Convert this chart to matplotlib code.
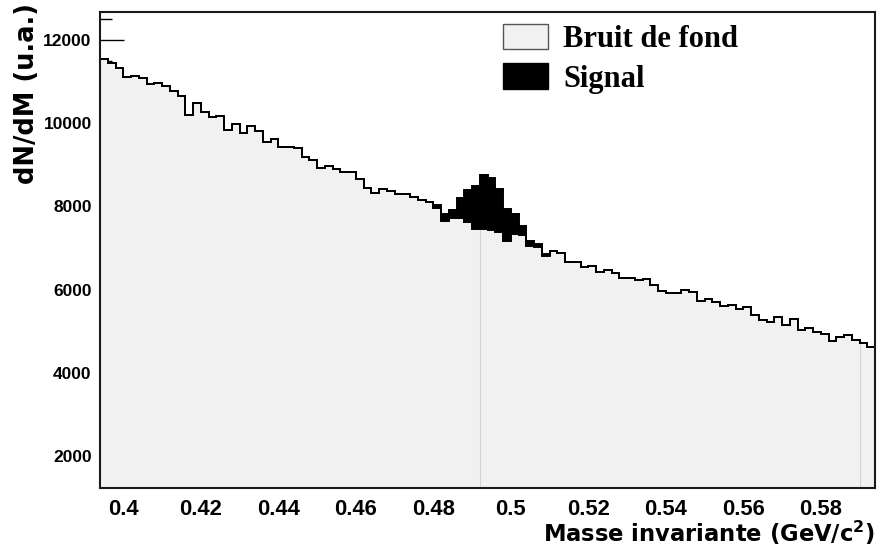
import numpy as np
import matplotlib
matplotlib.use("Agg")
import matplotlib.pyplot as plt
from matplotlib.patches import Patch
from matplotlib.ticker import MultipleLocator, FixedLocator, FixedFormatter

# Histogram binning (invariant mass, GeV/c^2)
mass_lo, mass_hi, n_bins = 0.394, 0.594, 100

# Background counts per bin
background = [
    11530, 11453, 11314, 11112, 11136, 11074, 10937, 10968, 10896, 10769,
    10649, 10193, 10474, 10272, 10152, 10176, 9833, 9977, 9754, 9936,
    9802, 9550, 9617, 9418, 9432, 9394, 9178, 9118, 8926, 8962,
    8890, 8837, 8825, 8650, 8448, 8326, 8424, 8376, 8309, 8297,
    8232, 8148, 8112, 7961, 7656, 7714, 7714, 7618, 7457, 7457,
    7433, 7378, 7176, 7337, 7313, 7042, 7018, 6816, 6936, 6874,
    6677, 6658, 6557, 6574, 6437, 6473, 6408, 6288, 6286, 6238,
    6269, 6108, 5974, 5921, 5916, 5993, 5940, 5729, 5789, 5712,
    5621, 5626, 5549, 5592, 5405, 5266, 5237, 5352, 5153, 5302,
    5033, 5093, 4992, 4944, 4776, 4865, 4913, 4793, 4728, 4618,
]

# Signal counts, starting at bin index signal_first_bin
signal_first_bin = 43
signal_counts = [70, 170, 190, 490, 770, 1025, 1295, 1240, 1040, 755,
                 485, 215, 125, 70, 35]

# Axis settings
y_range = (1234, 12658)
x_ticks = [0.40, 0.42, 0.44, 0.46, 0.48, 0.50, 0.52, 0.54, 0.56, 0.58]
x_tick_labels = ["0.4", "0.42", "0.44", "0.46", "0.48", "0.5",
                 "0.52", "0.54", "0.56", "0.58"]
legend_labels = ["Bruit de fond", "Signal"]

plt.rcParams["font.family"] = ["Liberation Sans", "DejaVu Sans"]
plt.rcParams["font.weight"] = "bold"

edges = np.linspace(mass_lo, mass_hi, n_bins + 1)
bkg = np.array(background, dtype=float)
sig = np.zeros(n_bins)
sig[signal_first_bin:signal_first_bin + len(signal_counts)] = signal_counts
total = bkg + sig

fig = plt.figure(figsize=(8.77, 5.53), dpi=100)
ax = fig.add_axes([100 / 877, (553 - 488.3) / 553, 775 / 877, 476 / 553])
ax.set_axisbelow(True)

fill_gray = "#f1f1f1"

# Stacked histogram: total (black = signal on top), then background
ax.stairs(total, edges, baseline=0, fill=True, facecolor="black",
          edgecolor="none", zorder=1.0)
ax.stairs(bkg, edges, baseline=0, fill=True, facecolor=fill_gray,
          edgecolor="none", zorder=1.1)

# faint seams in the filled area
seam_edges = [49, 98]
for k in seam_edges:
    ax.vlines(edges[k], 0, min(bkg[k - 1], bkg[k]), colors="#d4d4d4",
              linewidth=0.8, zorder=1.2)

ax.stairs(total, edges, baseline=None, color="black", linewidth=1.4, zorder=1.3)
ax.stairs(bkg, edges, baseline=None, color="black", linewidth=1.4, zorder=1.4)

ax.set_xlim(mass_lo, mass_hi)
ax.set_ylim(*y_range)

ax.xaxis.set_major_locator(FixedLocator(x_ticks))
ax.xaxis.set_major_formatter(FixedFormatter(x_tick_labels))
ax.yaxis.set_major_locator(MultipleLocator(2000))
ax.yaxis.set_minor_locator(MultipleLocator(500))

ax.tick_params(axis="y", which="major", direction="in", length=17.3,
               width=1.0, labelsize=12.5, pad=6)
ax.tick_params(axis="y", which="minor", direction="in", length=8.6, width=1.0)
ax.tick_params(axis="x", which="major", direction="in", length=12,
               width=1.0, labelsize=15.8, pad=8)

for sp in ax.spines.values():
    sp.set_linewidth(1.5)
    sp.set_color("#1a1a1a")

ax.set_xlabel(r"Masse invariante (GeV/c$^{\mathbf{2}}$)", loc="right",
              family="DejaVu Sans", weight="bold", size=16.3)
ax.xaxis.set_label_coords(1.0, -0.064)
ax.set_ylabel("dN/dM (u.a.)", loc="top",
              family="DejaVu Sans", weight="bold", size=18.5)
ax.yaxis.set_label_coords(-0.077, 1.02)

handles = [Patch(facecolor=fill_gray, edgecolor="#555555", linewidth=1.0),
           Patch(facecolor="black", edgecolor="black", linewidth=1.0)]
ax.legend(handles, legend_labels, loc="upper left",
          bbox_to_anchor=(503 / 877, 1 - 24 / 553),
          bbox_transform=fig.transFigure, frameon=False, borderpad=0,
          borderaxespad=0, handlelength=1.47, handleheight=0.9,
          handletextpad=0.49, labelspacing=0.3,
          prop=dict(family="Liberation Serif", weight="bold", size=22))

fig.savefig("out.png", dpi=100)
